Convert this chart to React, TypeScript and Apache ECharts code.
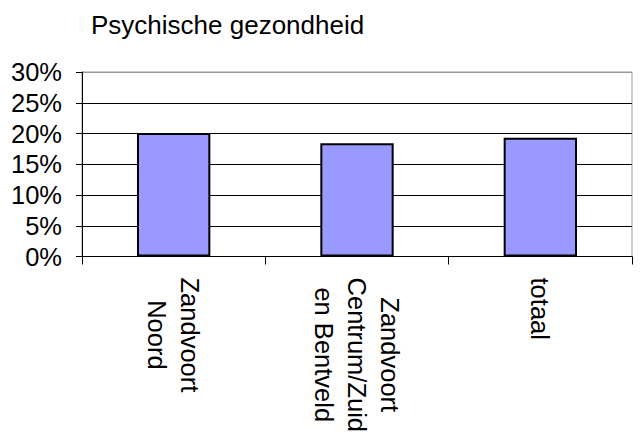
import React, { useEffect, useRef } from "react";
import * as echarts from "echarts";

const title = "Psychische gezondheid";
const categories = ["Zandvoort\nNoord", "Zandvoort\nCentrum/Zuid\nen Bentveld", "totaal"];
const values = [20.1, 18.4, 19.3];
const yMin = 0;
const yMax = 30;
const yInterval = 5;

const FONT = "'Liberation Sans', Arial, sans-serif";

export default function App() {
  const ref = useRef<HTMLDivElement>(null);
  useEffect(() => {
    if (!ref.current) return;
    const chart = echarts.init(ref.current, undefined, { renderer: "svg" });
    chart.setOption({
      animation: false,
      backgroundColor: "#ffffff",
      title: {
        text: title,
        left: 91,
        top: 12,
        padding: 0,
        textStyle: { fontSize: 26, fontWeight: "normal", color: "#000", fontFamily: FONT },
      },
      grid: {
        left: 82,
        right: 8,
        top: 72,
        bottom: 178,
        containLabel: false,
        show: true,
        borderColor: "#999",
        borderWidth: 1,
        backgroundColor: "transparent",
      },
      xAxis: {
        type: "category",
        data: categories,
        axisLine: { show: true, lineStyle: { color: "#000", width: 1 } },
        axisTick: { show: true, length: 8, lineStyle: { color: "#000", width: 1 } },
        axisLabel: {
          interval: 0,
          rotate: -90,
          margin: 21,
          color: "#000",
          fontFamily: FONT,
          fontSize: 25.5,
          formatter: (v: string) =>
            v
              .split("\n")
              .map((l) => "{c|" + l + "}")
              .join("\n"),
          rich: {
            c: { align: "center", lineHeight: 33, fontSize: 25.5, fontFamily: FONT, color: "#000" },
          },
        },
        splitLine: { show: false },
      },
      yAxis: {
        type: "value",
        min: yMin,
        max: yMax,
        interval: yInterval,
        axisLine: { show: true, lineStyle: { color: "#000", width: 1 } },
        axisTick: { show: true, length: 6, lineStyle: { color: "#000", width: 1 } },
        axisLabel: {
          formatter: "{value}%",
          margin: 20,
          color: "#000",
          fontFamily: FONT,
          fontSize: 25.5,
        },
        splitLine: {
          show: true,
          lineStyle: {
            color: ["#000", "#000", "#000", "#000", "#000", "#000", "#999"],
            width: 1,
          },
        },
      },
      series: [
        {
          type: "bar",
          data: values,
          barWidth: "40%",
          itemStyle: { color: "#9999FF", borderColor: "#000", borderWidth: 2 },
        },
      ],
    });
    return () => chart.dispose();
  }, []);
  return (
    <div
      ref={ref}
      style={{ position: "fixed", left: 0, top: 0, width: 640, height: 435, background: "#fff" }}
    />
  );
}
